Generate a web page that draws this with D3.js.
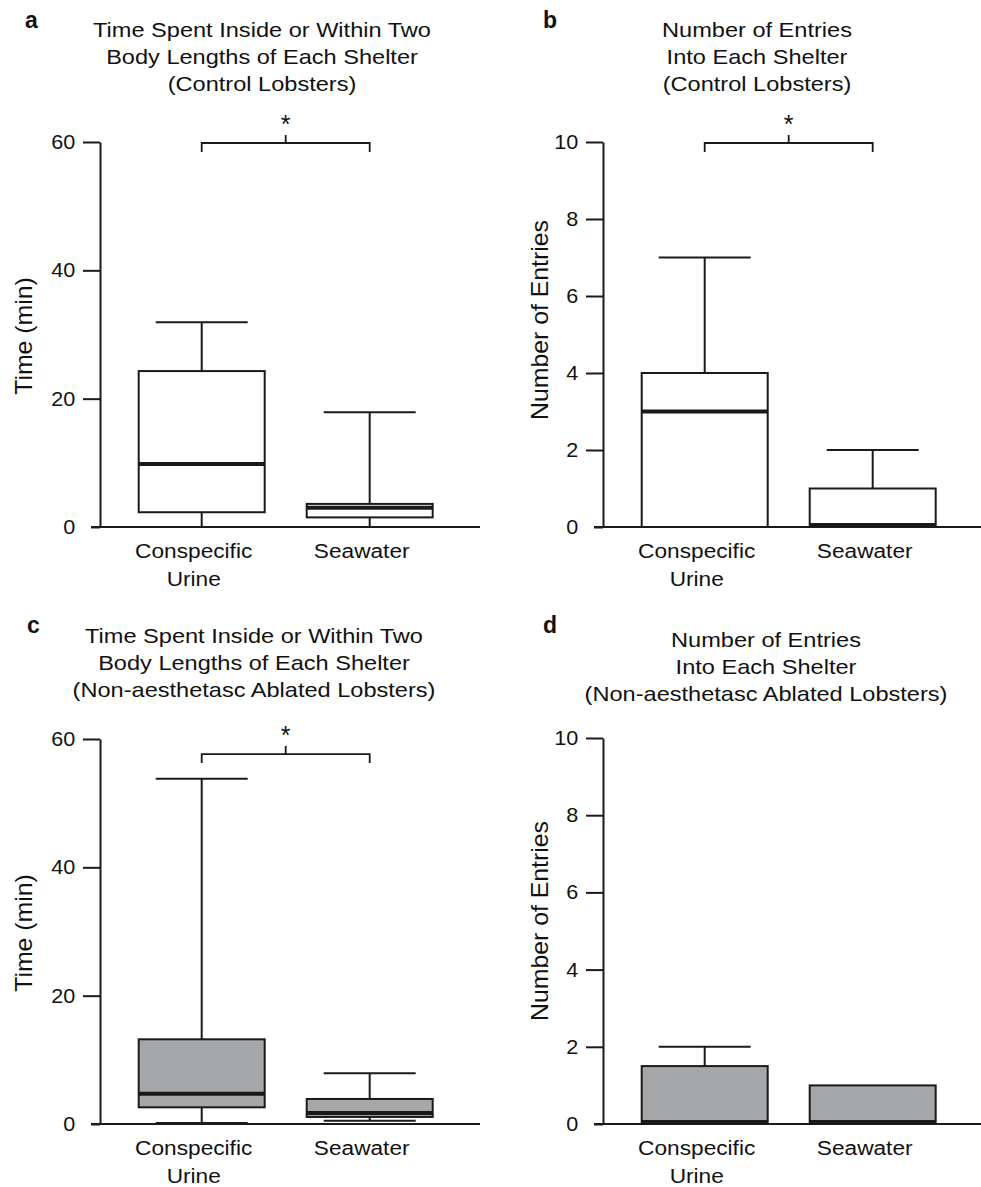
<!DOCTYPE html>
<html>
<head>
<meta charset="utf-8">
<script src="https://cdn.jsdelivr.net/npm/d3@7"></script>
<style>
  body { margin: 0; background: #fff; }
  text { font-family: "Liberation Sans", Arial, Helvetica, sans-serif; fill: #111; }
</style>
</head>
<body>
<script>
// categories + tick labels
const categories = ["Conspecific Urine", "Seawater"];
const categoryLines = [["Conspecific", "Urine"], ["Seawater"]];
const timeTicks = [0, 20, 40, 60];
const entryTicks = [0, 2, 4, 6, 8, 10];

// box stats: min, q1, median, q3, max
const controlTime = [
  { min: 0, q1: 2.3, median: 9.8, q3: 24.3, max: 31.9 },
  { min: 0, q1: 1.5, median: 3.0, q3: 3.6, max: 17.9 },
];
const controlEntries = [
  { min: 0, q1: 0, median: 3, q3: 4, max: 7 },
  { min: 0, q1: 0, median: 0, q3: 1, max: 2 },
];
const ablatedTime = [
  { min: 0.15, q1: 2.6, median: 4.7, q3: 13.2, max: 53.8 },
  { min: 0.5, q1: 1.1, median: 1.7, q3: 3.9, max: 7.9 },
];
const ablatedEntries = [
  { min: 0, q1: 0, median: 0, q3: 1.5, max: 2 },
  { min: 0, q1: 0, median: 0, q3: 1, max: 1 },
];

// significance bracket height (in data units), null = none
const brackets = [60, 10, 57.8, null];

const SX = 1.08; // the original type runs a bit wide
const ink = "#1a1a1a";

const panels = [
  { letter: "a", lx: 25, ly: 28, ox: 100, y0: 527, y1: 142, max: 60, ticks: timeTicks, stats: controlTime,
    fill: "#fff", title: ["Time Spent Inside or Within Two", "Body Lengths of Each Shelter", "(Control Lobsters)"],
    tx: 262, ty: 37, yLabel: "Time (min)", ylx: 32, yly: 336, bracket: brackets[0] },
  { letter: "b", lx: 543, ly: 28, ox: 603, y0: 527, y1: 142, max: 10, ticks: entryTicks, stats: controlEntries,
    fill: "#fff", title: ["Number of Entries", "Into Each Shelter", "(Control Lobsters)"],
    tx: 757, ty: 37, yLabel: "Number of Entries", ylx: 548, yly: 320, bracket: brackets[1] },
  { letter: "c", lx: 27, ly: 633, ox: 100, y0: 1124, y1: 739, max: 60, ticks: timeTicks, stats: ablatedTime,
    fill: "#a6a7a9", title: ["Time Spent Inside or Within Two", "Body Lengths of Each Shelter", "(Non-aesthetasc Ablated Lobsters)"],
    tx: 254, ty: 643, yLabel: "Time (min)", ylx: 32, yly: 933, bracket: brackets[2] },
  { letter: "d", lx: 543, ly: 633, ox: 603, y0: 1124, y1: 738, max: 10, ticks: entryTicks, stats: ablatedEntries,
    fill: "#a6a7a9", title: ["Number of Entries", "Into Each Shelter", "(Non-aesthetasc Ablated Lobsters)"],
    tx: 766, ty: 647, yLabel: "Number of Entries", ylx: 548, yly: 921, bracket: brackets[3] },
];

const svg = d3.select("body").append("svg").attr("width", 981).attr("height", 1187);

const txt = (g, s, x, y, size, anchor, sx = SX) =>
  g.append("text")
    .attr("transform", `translate(${x},${y}) scale(${sx},1)`)
    .attr("text-anchor", anchor)
    .style("font-size", size + "px")
    .text(s);

panels.forEach((p) => {
  const g = svg.append("g");

  const y = d3.scaleLinear().domain([0, p.max]).range([p.y0, p.y1]);
  const x = d3.scaleBand().domain(categories).range([p.ox, p.ox + 380])
    .paddingInner(0.25).paddingOuter(0.256).align(0.45);
  const bw = x.bandwidth();
  const cx = (c) => x(c) + bw / 2;

  // panel letter
  g.append("text").attr("x", p.lx).attr("y", p.ly)
    .style("font-size", "23px").style("font-weight", "bold").text(p.letter);

  // title
  p.title.forEach((line, i) => txt(g, line, p.tx, p.ty + i * 27, 20.5, "middle", 1.15));

  // y axis
  const ax = g.append("g").attr("transform", `translate(${p.ox},0)`)
    .call(d3.axisLeft(y).tickValues(p.ticks).tickSize(17).tickSizeOuter(0).tickPadding(6));
  ax.select(".domain").attr("stroke", ink).attr("stroke-width", 2);
  ax.selectAll(".tick line").attr("stroke", ink).attr("stroke-width", 2)
    .filter((d) => d === 0).attr("x2", -9);
  ax.selectAll(".tick text")
    .attr("fill", ink)
    .style("font-size", "20px")
    .style("font-family", "'Liberation Sans', Arial, sans-serif")
    .attr("transform", `scale(${SX},1)`);

  // x axis baseline
  g.append("line").attr("x1", p.ox - 9).attr("x2", p.ox + 380)
    .attr("y1", y(0)).attr("y2", y(0)).attr("stroke", ink).attr("stroke-width", 2);

  // y label
  g.append("text")
    .attr("transform", `translate(${p.ylx},${p.yly}) rotate(-90) scale(${SX},1)`)
    .attr("text-anchor", "middle").style("font-size", "23px").text(p.yLabel);

  // category labels
  categories.forEach((c, i) => {
    categoryLines[i].forEach((line, j) => txt(g, line, cx(c) - 8, p.y0 + 31 + j * 28, 21, "middle"));
  });

  // boxes
  p.stats.forEach((s, i) => {
    const c = categories[i];
    const capW = bw * 0.73;
    const wh = g.append("g").attr("stroke", ink).attr("stroke-width", 2);
    if (s.max > s.q3) {
      wh.append("line").attr("x1", cx(c)).attr("x2", cx(c)).attr("y1", y(s.q3)).attr("y2", y(s.max));
      wh.append("line").attr("x1", cx(c) - capW / 2).attr("x2", cx(c) + capW / 2).attr("y1", y(s.max)).attr("y2", y(s.max));
    }
    if (s.min < s.q1) {
      wh.append("line").attr("x1", cx(c)).attr("x2", cx(c)).attr("y1", y(s.q1)).attr("y2", y(s.min));
      wh.append("line").attr("x1", cx(c) - capW / 2).attr("x2", cx(c) + capW / 2).attr("y1", y(s.min)).attr("y2", y(s.min));
    }
    g.append("rect").attr("x", x(c)).attr("width", bw)
      .attr("y", y(s.q3)).attr("height", y(s.q1) - y(s.q3))
      .attr("fill", p.fill).attr("stroke", ink).attr("stroke-width", 2);
    const my = Math.min(y(s.median), y(0) - 2);
    g.append("line").attr("x1", x(c)).attr("x2", x(c) + bw)
      .attr("y1", my).attr("y2", my).attr("stroke", ink).attr("stroke-width", 4);
  });

  // significance bracket
  if (p.bracket != null) {
    const by = y(p.bracket) + 1;
    const xa = cx(categories[0]), xb = cx(categories[1]), xm = (xa + xb) / 2;
    g.append("path")
      .attr("d", `M${xa},${by + 9}V${by}H${xb}V${by + 9}M${xm},${by}V${by - 8}`)
      .attr("fill", "none").attr("stroke", ink).attr("stroke-width", 1.8);
    g.append("text").attr("x", xm).attr("y", by - 10).attr("text-anchor", "middle")
      .style("font-size", "25px").text("*");
  }
});
</script>
</body>
</html>
